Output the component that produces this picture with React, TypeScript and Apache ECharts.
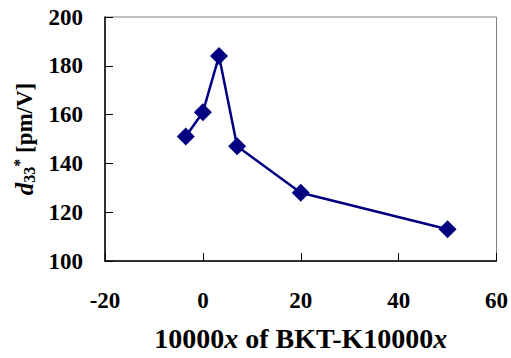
import React, { useEffect, useRef } from "react";
import * as echarts from "echarts";

const xValues = [-3.5, 0, 3.3, 7, 20, 50];
const d33Values = [151, 161, 184, 147, 128, 113];

const FONT = "'Liberation Serif', 'Times New Roman', serif";

export default function App() {
  const ref = useRef<HTMLDivElement>(null);
  useEffect(() => {
    if (!ref.current) return;
    const chart = echarts.init(ref.current, undefined, { renderer: "svg" });
    chart.setOption({
      animation: false,
      backgroundColor: "#ffffff",
      grid: {
        left: 105,
        top: 17,
        right: 14,
        bottom: 97,
        show: true,
        borderColor: "#808080",
        borderWidth: 1,
        backgroundColor: "transparent",
      },
      xAxis: {
        type: "value",
        min: -20,
        max: 60,
        interval: 20,
        splitLine: { show: false },
        axisLine: { show: true, onZero: false, lineStyle: { color: "#000", width: 1.5 } },
        axisTick: { show: true, inside: true, length: 8, lineStyle: { color: "#000", width: 1 } },
        axisLabel: {
          margin: 28,
          color: "#000",
          fontFamily: FONT,
          fontWeight: "bold",
          fontSize: 23,
        },
        name: "10000{i|x} of BKT-K10000{i|x}",
        nameLocation: "middle",
        nameGap: 77,
        nameTextStyle: {
          color: "#000",
          fontFamily: FONT,
          fontWeight: "bold",
          fontSize: 28,
          verticalAlign: "middle",
          rich: {
            i: {
              fontFamily: FONT,
              fontWeight: "bold",
              fontStyle: "italic",
              fontSize: 28,
              color: "#000",
            },
          },
        },
      },
      yAxis: {
        type: "value",
        min: 100,
        max: 200,
        interval: 20,
        splitLine: { show: false },
        axisLine: { show: true, onZero: false, lineStyle: { color: "#000", width: 1.5 } },
        axisTick: { show: true, inside: true, length: 8, lineStyle: { color: "#000", width: 1 } },
        axisLabel: {
          margin: 22,
          color: "#000",
          fontFamily: FONT,
          fontWeight: "bold",
          fontSize: 23,
        },
        name: "{d|d}{sub|33}{sup|*}{n| [pm/V]}",
        nameLocation: "middle",
        nameRotate: 90,
        nameGap: 80,
        nameTextStyle: {
          color: "#000",
          verticalAlign: "middle",
          rich: {
            d: {
              fontFamily: FONT,
              fontWeight: "bold",
              fontStyle: "italic",
              fontSize: 25,
              color: "#000",
            },
            sub: {
              fontFamily: FONT,
              fontWeight: "bold",
              fontSize: 16,
              color: "#000",
              lineHeight: 16,
              padding: [9, 0, 0, 0],
            },
            sup: {
              fontFamily: FONT,
              fontWeight: "bold",
              fontSize: 16,
              color: "#000",
              lineHeight: 16,
              padding: [0, 0, 10, 0],
            },
            n: {
              fontFamily: FONT,
              fontWeight: "bold",
              fontSize: 23,
              color: "#000",
            },
          },
        },
      },
      series: [
        {
          type: "line",
          data: xValues.map((x, i) => [x, d33Values[i]]),
          symbol: "diamond",
          symbolSize: 18,
          lineStyle: { color: "#000080", width: 2.5 },
          itemStyle: { color: "#000080" },
        },
      ],
    });
    return () => chart.dispose();
  }, []);
  return <div ref={ref} style={{ width: 511, height: 358, position: "absolute", left: 0, top: 0 }} />;
}
